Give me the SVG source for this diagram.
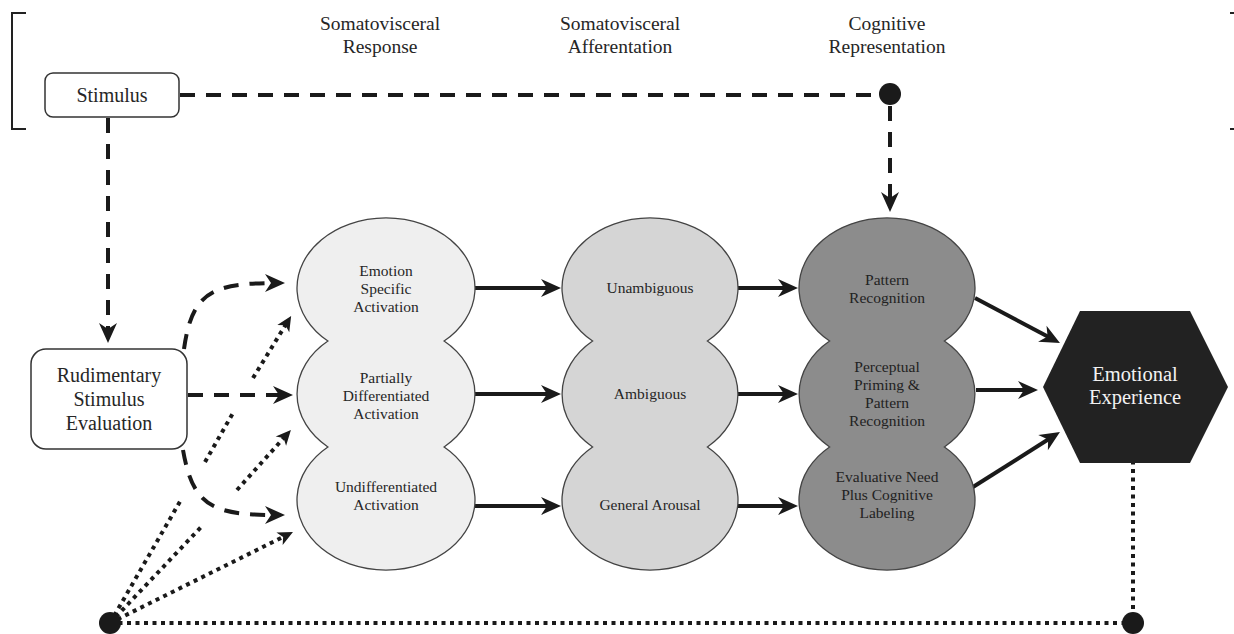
<svg xmlns="http://www.w3.org/2000/svg" width="1234" height="634" viewBox="0 0 1234 634">
  <style>
    text { font-family: 'Liberation Serif', 'Times New Roman', Times, serif; fill: #262626; text-anchor: middle; }
    .head { font-size: 19.5px; }
    .box-t { font-size: 20px; }
    .blob-t { font-size: 15.5px; }
    .box { fill: #fff; stroke: #333; stroke-width: 1.5; }
    .blob { stroke: #444; stroke-width: 1.3; }
    .dash { fill: none; stroke: #1a1a1a; stroke-width: 4; stroke-dasharray: 15 11; }
    .dot { fill: none; stroke: #1a1a1a; stroke-width: 4; stroke-dasharray: 4 4.5; }
    .solid { fill: none; stroke: #1a1a1a; stroke-width: 4; }
    .dark text { fill: #222; }
    .light text { fill: #f2f2f2; font-size: 20.5px; }
  </style>
  <defs>
    <marker id="arrow" viewBox="-14 -10 24 20" refX="0" refY="0" markerWidth="24" markerHeight="20" markerUnits="userSpaceOnUse" orient="auto">
      <path d="M8,0 L-12,-9 L-6,0 L-12,9 Z" fill="#1a1a1a"/>
    </marker>
    <marker id="arrow-s" viewBox="-12 -8 20 16" refX="0" refY="0" markerWidth="20" markerHeight="16" markerUnits="userSpaceOnUse" orient="auto">
      <path d="M6,0 L-9,-7 L-5,0 L-9,7 Z" fill="#1a1a1a"/>
    </marker>
  </defs>

  <!-- bracket marks -->
  <g id="bracket" fill="none" stroke="#222" stroke-width="2">
    <path d="M26,13 H12 V129 H26"/>
    <path d="M1230,13 H1234 M1230,129 H1234"/>
  </g>

  <!-- column headings -->
  <g id="headings" class="head">
    <text x="380" y="30">Somatovisceral</text>
    <text x="380" y="53">Response</text>
    <text x="620" y="30">Somatovisceral</text>
    <text x="620" y="53">Afferentation</text>
    <text x="887" y="30">Cognitive</text>
    <text x="887" y="53">Representation</text>
  </g>

  <!-- connectors -->
  <g id="connectors">
    <!-- dotted feedback lines -->
    <path class="dot" d="M110,623 H1133 V463"/>
    <path class="dot" d="M110,623 L182,498 M205,462 L233,413 M253,378 L288,321" marker-end="url(#arrow-s)"/>
    <path class="dot" d="M110,623 L203,525 M237,490 L286.9,434.4" marker-end="url(#arrow-s)"/>
    <path class="dot" d="M110,623 L287.6,534.7" marker-end="url(#arrow-s)"/>

    <!-- dashed stimulus paths -->
    <path class="dash" d="M180,95 H880"/>
    <path class="dash" d="M890,106 V204" marker-end="url(#arrow)"/>
    <path class="dash" d="M108,118 V335" marker-end="url(#arrow)"/>
    <path class="dash" d="M184,349 C192,292 212,283 277,283" marker-end="url(#arrow)"/>
    <path class="dash" d="M188,395 H285" marker-end="url(#arrow)"/>
    <path class="dash" d="M183,450 C193,507 213,515 277,515" marker-end="url(#arrow)"/>

    <!-- solid arrows between columns -->
    <path class="solid" d="M475,288 H553" marker-end="url(#arrow)"/>
    <path class="solid" d="M475,394 H553" marker-end="url(#arrow)"/>
    <path class="solid" d="M475,506 H553" marker-end="url(#arrow)"/>
    <path class="solid" d="M738,288 H790" marker-end="url(#arrow)"/>
    <path class="solid" d="M738,394 H790" marker-end="url(#arrow)"/>
    <path class="solid" d="M738,506 H790" marker-end="url(#arrow)"/>
    <path class="solid" d="M975,298 L1052.9,339.3" marker-end="url(#arrow)"/>
    <path class="solid" d="M976,390 H1030" marker-end="url(#arrow)"/>
    <path class="solid" d="M973,487 L1053.2,436.3" marker-end="url(#arrow)"/>

    <!-- junction dots -->
    <circle cx="890" cy="94" r="11" fill="#1a1a1a"/>
    <circle cx="110" cy="623" r="11" fill="#1a1a1a"/>
    <circle cx="1133" cy="623" r="11" fill="#1a1a1a"/>
  </g>

  <!-- stimulus -->
  <g id="stimulus">
    <rect class="box" x="45" y="73" width="134" height="44" rx="8"/>
    <text class="box-t" x="112" y="102">Stimulus</text>
  </g>

  <!-- rudimentary evaluation -->
  <g id="rudimentary">
    <rect class="box" x="31" y="349" width="156" height="100" rx="15"/>
    <g class="box-t">
      <text x="109" y="382">Rudimentary</text>
      <text x="109" y="406">Stimulus</text>
      <text x="109" y="430">Evaluation</text>
    </g>
  </g>

  <!-- somatovisceral response column -->
  <g id="response">
    <path class="blob" fill="#efefef" d="M327.9,341 A89,70 0 1 1 444.1,341 A89,70 0 0 1 444.1,447 A89,70 0 1 1 327.9,447 A89,70 0 0 1 327.9,341 Z"/>
    <g class="blob-t">
      <text x="386" y="276">Emotion</text>
      <text x="386" y="294">Specific</text>
      <text x="386" y="312">Activation</text>
      <text x="386" y="383">Partially</text>
      <text x="386" y="401">Differentiated</text>
      <text x="386" y="419">Activation</text>
      <text x="386" y="492">Undifferentiated</text>
      <text x="386" y="510">Activation</text>
    </g>
  </g>

  <!-- somatovisceral afferentation column -->
  <g id="afferentation">
    <path class="blob" fill="#d5d5d5" d="M592.6,341 A88,70 0 1 1 707.4,341 A88,70 0 0 1 707.4,447 A88,70 0 1 1 592.6,447 A88,70 0 0 1 592.6,341 Z"/>
    <g class="blob-t">
      <text x="650" y="293">Unambiguous</text>
      <text x="650" y="399">Ambiguous</text>
      <text x="650" y="510">General Arousal</text>
    </g>
  </g>

  <!-- cognitive representation column -->
  <g id="cognitive">
    <path class="blob" fill="#8c8c8c" d="M829.6,341 A88,70 0 1 1 944.4,341 A88,70 0 0 1 944.4,447 A88,70 0 1 1 829.6,447 A88,70 0 0 1 829.6,341 Z"/>
    <g class="blob-t dark">
      <text x="887" y="285">Pattern</text>
      <text x="887" y="303">Recognition</text>
      <text x="887" y="372">Perceptual</text>
      <text x="887" y="390">Priming &amp;</text>
      <text x="887" y="408">Pattern</text>
      <text x="887" y="426">Recognition</text>
      <text x="887" y="482">Evaluative Need</text>
      <text x="887" y="500">Plus Cognitive</text>
      <text x="887" y="518">Labeling</text>
    </g>
  </g>

  <!-- emotional experience -->
  <g id="experience">
    <polygon points="1080,311 1190,311 1228,387 1190,463 1080,463 1043,387" fill="#222"/>
    <g class="light">
      <text x="1135" y="381">Emotional</text>
      <text x="1135" y="404">Experience</text>
    </g>
  </g>
</svg>
